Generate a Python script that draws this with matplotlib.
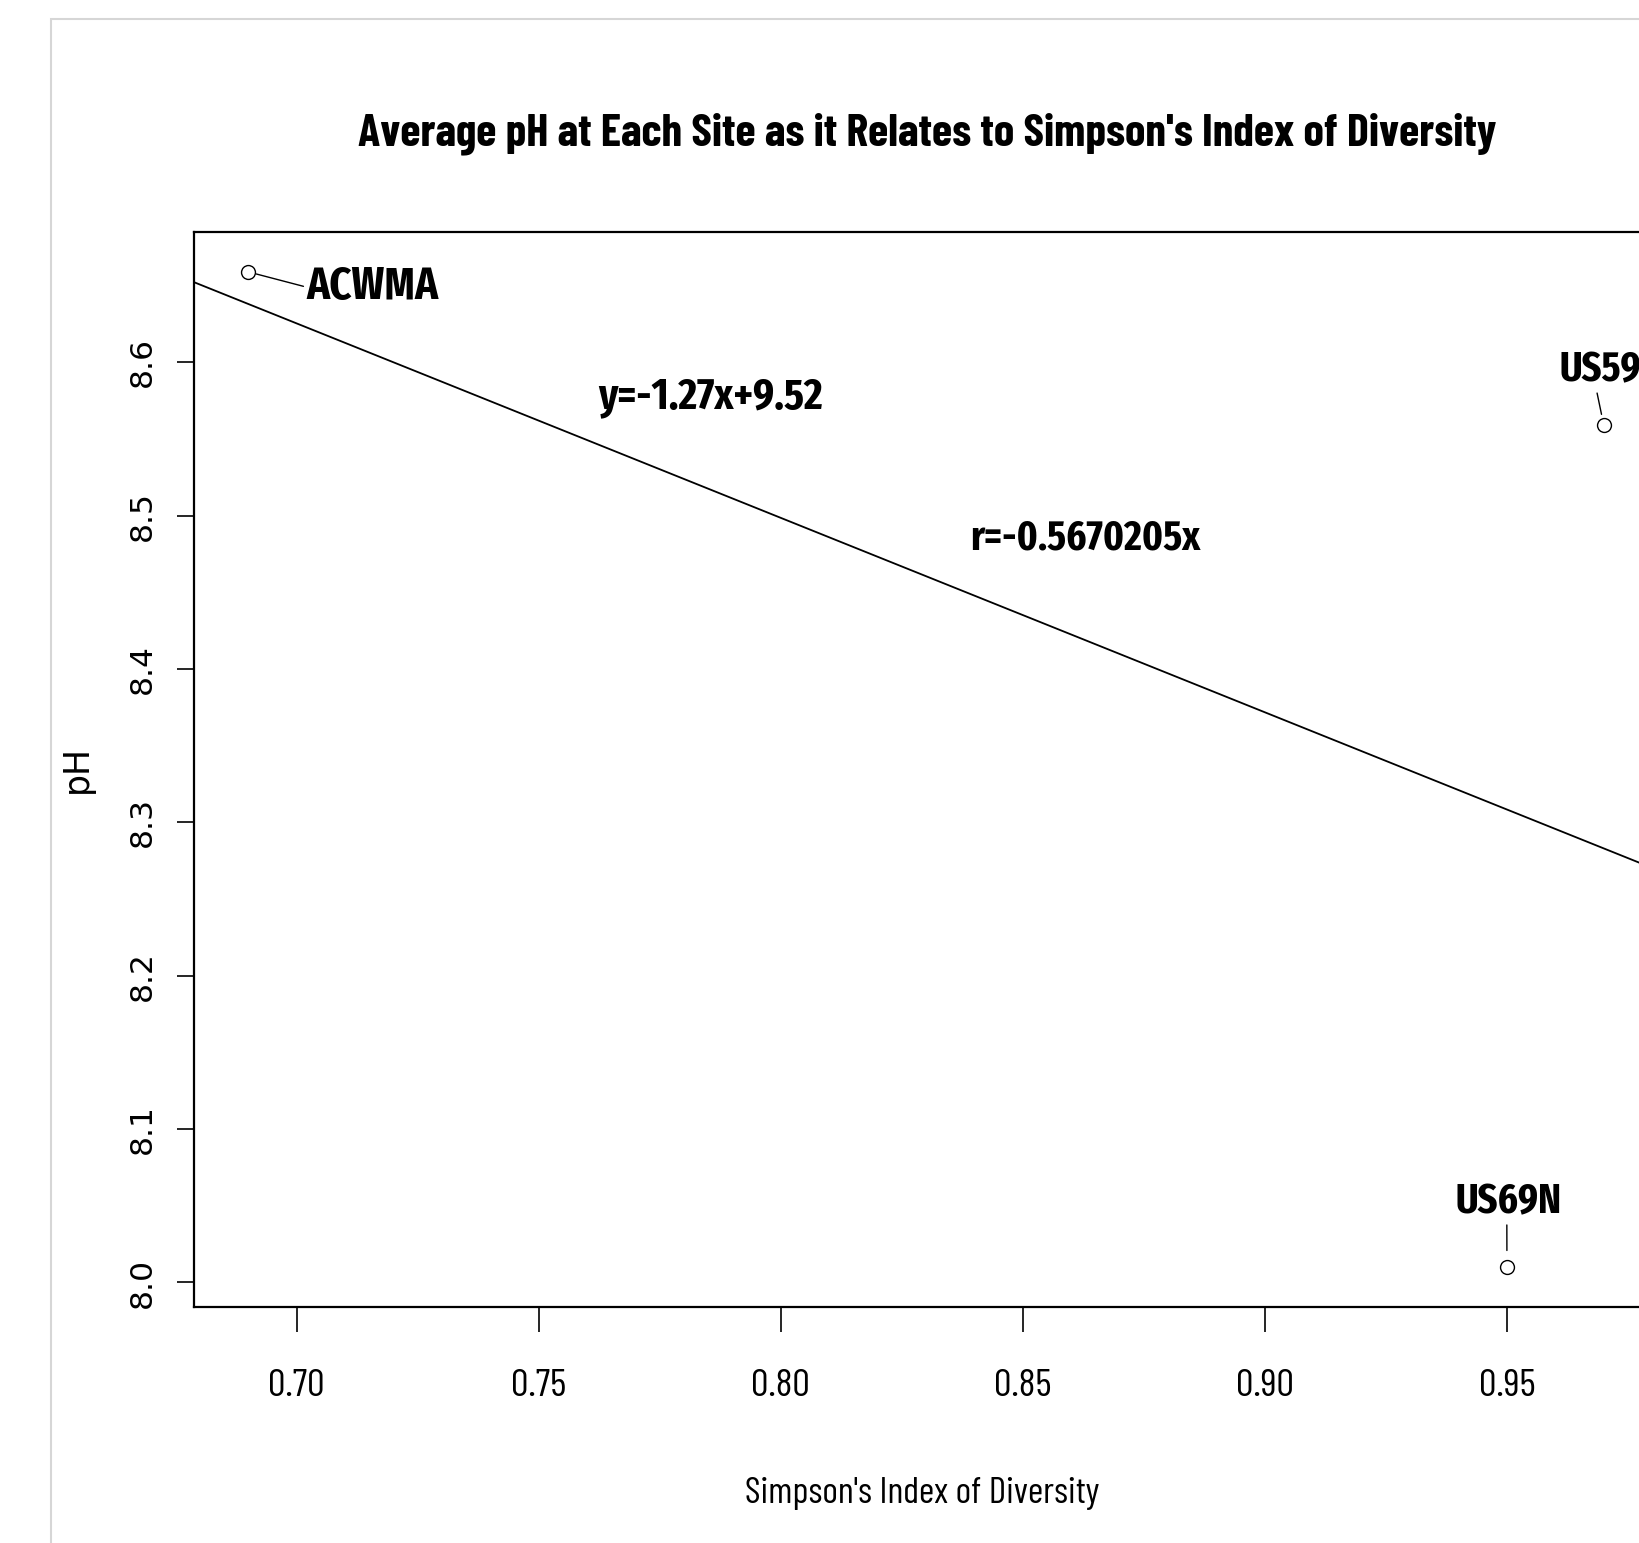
import matplotlib
matplotlib.use('Agg')
import matplotlib.pyplot as plt
from matplotlib.patches import Rectangle
import numpy as np

# data
sites = ['ACWMA', 'US59', 'US69N']
simpson = [0.69, 0.97, 0.95]
ph = [8.659, 8.559, 8.01]
# fitted line as drawn (the printed equation is rounded)
line_slope, line_intercept = -1.268, 9.513
eq_label = 'y=-1.27x+9.52'
r_label = 'r=-0.5670205x'

x_ticks = [0.70, 0.75, 0.80, 0.85, 0.90, 0.95]
y_ticks = [8.0, 8.1, 8.2, 8.3, 8.4, 8.5, 8.6]

W, H = 1640, 1543
# the screenshot is squeezed sideways: condensed faces for horizontal text,
# a wide face for the text turned on its side
R_FONT = ['Barlow Condensed', 'Roboto Condensed', 'DejaVu Sans']        # R's Arial text
LAB_FONT = ['Fira Sans Extra Condensed', 'Roboto Condensed', 'DejaVu Sans']  # pasted-in labels
SIDE_FONT = ['DejaVu Sans']

fig = plt.figure(figsize=(W / 100, H / 100), dpi=100)
renderer = fig.canvas.get_renderer()


def fit_size(s, target, vertical=False, **kw):
    # font size that gives the text the wanted length in pixels
    t = fig.text(0, 0, s, fontsize=20, rotation=90 if vertical else 0, **kw)
    bb = t.get_window_extent(renderer)
    t.remove()
    return 20 * target / (bb.height if vertical else bb.width)


def px(x, y):
    return x / W, 1 - y / H


# light grey frame of the screenshot
fig.patches.append(Rectangle((51 / W, -0.1), 2, 1 - 19 / H + 0.1, transform=fig.transFigure,
                             fill=False, ec='#d6d6d6', lw=1.5))

# axes box runs off the right edge like in the picture
ax = fig.add_axes([194 / W, 1 - 1307 / H, (1658 - 194) / W, (1307 - 232) / H])
ax.set_xlim(0.6788, 0.9812)
ax.set_ylim(7.984, 8.685)
for s in ax.spines.values():
    s.set_linewidth(1.6)

ax.plot(simpson, ph, 'o', mfc='none', mec='black', ms=10, mew=1.0, clip_on=False)

xs = np.array(ax.get_xlim())
ax.plot(xs, line_slope * xs + line_intercept, color='black', lw=1.3)

xt_size = fit_size('0.70', 57, family=R_FONT)
yt_size = fit_size('8.0', 50, vertical=True, family=SIDE_FONT)
ax.set_xticks(x_ticks)
ax.set_xticklabels(['%.2f' % v for v in x_ticks], family=R_FONT, fontsize=xt_size)
ax.set_yticks(y_ticks)
ax.set_yticklabels(['%.1f' % v for v in y_ticks], family=SIDE_FONT, fontsize=yt_size,
                   rotation=90, va='center')
ax.tick_params(axis='x', length=18, width=1.2, pad=27)
ax.tick_params(axis='y', length=12, width=1.2, pad=15)

# site labels with leader lines
lab_font = dict(family=LAB_FONT, fontweight='bold')
lab_size = fit_size(sites[2], 106, **lab_font)
ax.annotate(sites[0], (simpson[0], ph[0]), xytext=(58, -27), textcoords='offset pixels',
            ha='left', va='baseline', fontsize=fit_size(sites[0], 132, **lab_font), **lab_font,
            arrowprops=dict(arrowstyle='-', lw=1.0, color='black', relpos=(0, 0.5),
                            shrinkA=0, shrinkB=6))
ax.annotate(sites[1], (simpson[1], ph[1]), xytext=(-44, 44), textcoords='offset pixels',
            ha='left', va='baseline', fontsize=lab_size, **lab_font,
            arrowprops=dict(arrowstyle='-', lw=1.0, color='black', relpos=(0.45, 0),
                            shrinkA=0, shrinkB=8))
ax.annotate(sites[2], (simpson[2], ph[2]), xytext=(2, 54), textcoords='offset pixels',
            ha='center', va='baseline', fontsize=lab_size, **lab_font,
            arrowprops=dict(arrowstyle='-', lw=1.0, color='black', relpos=(0.48, 0),
                            shrinkA=0, shrinkB=12))

# equation and correlation text
fig.text(*px(598, 408), eq_label, fontsize=fit_size(eq_label, 225, **lab_font), **lab_font,
         ha='left', va='baseline')
fig.text(*px(970, 549), r_label, fontsize=fit_size(r_label, 231, **lab_font), **lab_font,
         ha='left', va='baseline')

title = "Average pH at Each Site as it Relates to Simpson's Index of Diversity"
fig.text(*px(927, 145), title, fontsize=fit_size(title, 1138, family=R_FONT, fontweight='bold'),
         family=R_FONT, fontweight='bold', ha='center', va='baseline')
xlab = "Simpson's Index of Diversity"
fig.text(*px(922, 1503), xlab, fontsize=fit_size(xlab, 355, family=R_FONT), family=R_FONT,
         ha='center', va='baseline')
fig.text(*px(77, 769), 'pH', fontsize=fit_size('pH', 48, vertical=True, family=SIDE_FONT),
         family=SIDE_FONT, rotation=90, ha='center', va='center')

fig.savefig('out.png', dpi=100)
